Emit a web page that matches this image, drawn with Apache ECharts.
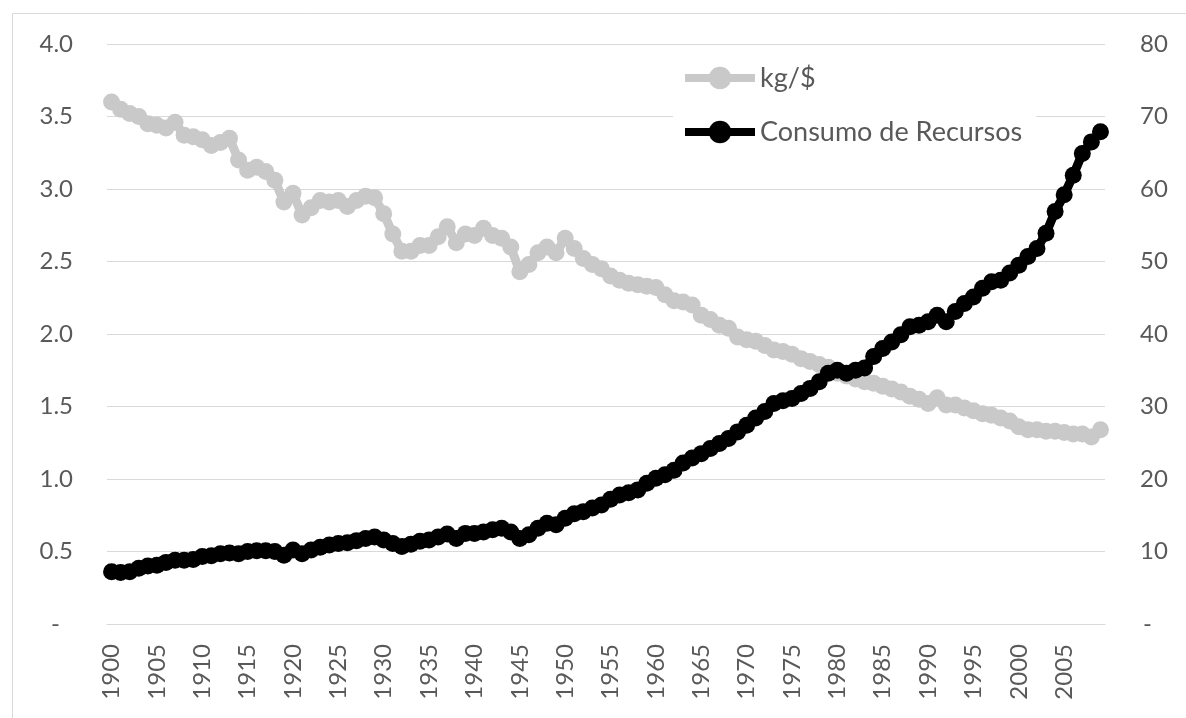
<!DOCTYPE html>
<html>
<head>
<meta charset="utf-8">
<script src="https://cdn.jsdelivr.net/npm/echarts@6/dist/echarts.min.js"></script>
<style>
  html, body { margin: 0; padding: 0; background: #fff; }
  #chart { width: 1186px; height: 718px; }
</style>
</head>
<body>
<div id="chart"></div>
<script>
// años 1900-2009
const years = []
for (let y = 1900; y <= 2009; y++) years.push(String(y))

// kg/$ (eje izquierdo)
const kgPorDolar = [
  3.60, 3.55, 3.52, 3.50, 3.45, 3.44, 3.42, 3.46, 3.37, 3.36,
  3.34, 3.30, 3.32, 3.35, 3.20, 3.13, 3.15, 3.12, 3.06, 2.91,
  2.97, 2.82, 2.87, 2.92, 2.91, 2.92, 2.88, 2.92, 2.95, 2.94,
  2.83, 2.69, 2.57, 2.57, 2.61, 2.61, 2.67, 2.74, 2.63, 2.69,
  2.68, 2.73, 2.68, 2.66, 2.60, 2.43, 2.48, 2.56, 2.60, 2.56,
  2.66, 2.59, 2.52, 2.48, 2.45, 2.40, 2.37, 2.35, 2.34, 2.33,
  2.32, 2.27, 2.23, 2.22, 2.20, 2.13, 2.10, 2.06, 2.04, 1.98,
  1.96, 1.95, 1.92, 1.89, 1.88, 1.86, 1.83, 1.81, 1.79, 1.77,
  1.73, 1.71, 1.69, 1.67, 1.66, 1.64, 1.62, 1.60, 1.57, 1.55,
  1.52, 1.56, 1.51, 1.51, 1.49, 1.47, 1.45, 1.44, 1.42, 1.40,
  1.36, 1.34, 1.34, 1.33, 1.33, 1.32, 1.31, 1.31, 1.29, 1.34
]

// Consumo de Recursos (eje derecho)
const consumo = [
  7.2, 7.1, 7.2, 7.7, 8.0, 8.1, 8.5, 8.8, 8.8, 8.9,
  9.3, 9.4, 9.7, 9.8, 9.7, 10.0, 10.1, 10.1, 10.0, 9.5,
  10.2, 9.7, 10.2, 10.6, 10.9, 11.1, 11.2, 11.5, 11.8, 12.0,
  11.6, 11.1, 10.7, 11.0, 11.4, 11.6, 12.0, 12.4, 11.8, 12.5,
  12.5, 12.7, 13.0, 13.2, 12.7, 11.8, 12.3, 13.2, 13.9, 13.7,
  14.6, 15.2, 15.5, 16.0, 16.4, 17.2, 17.8, 18.1, 18.5, 19.4,
  20.1, 20.6, 21.2, 22.2, 22.9, 23.5, 24.2, 24.9, 25.6, 26.5,
  27.4, 28.4, 29.3, 30.4, 30.8, 31.1, 31.8, 32.5, 33.4, 34.6,
  35.0, 34.6, 35.0, 35.3, 36.9, 38.0, 38.9, 39.9, 41.0, 41.2,
  41.7, 42.6, 41.7, 43.1, 44.2, 45.1, 46.3, 47.2, 47.4, 48.4,
  49.5, 50.7, 51.8, 53.9, 56.9, 59.2, 61.9, 64.9, 66.5, 67.9
]

const labelColor = '#595959'
const gridColor = '#d9d9d9'
const fontFamily = 'Lato'

const chart = echarts.init(document.getElementById('chart'))
chart.setOption({
  animation: false,
  backgroundColor: '#fff',
  textStyle: { fontFamily: fontFamily },
  graphic: [{
    type: 'rect',
    left: 10,
    top: 11,
    shape: { width: 1400, height: 900 },
    style: { fill: 'none', stroke: gridColor, lineWidth: 1 },
    silent: true,
    z: -10
  }],
  grid: {
    left: 107,
    right: 81,
    top: 44,
    bottom: 94
  },
  legend: {
    orient: 'vertical',
    left: 673,
    top: 52,
    padding: [10, 14, 10, 8],
    backgroundColor: '#fff',
    itemWidth: 70,
    itemHeight: 28,
    itemGap: 22,
    lineStyle: { width: 8 },
    textStyle: {
      color: labelColor,
      fontSize: 27,
      lineHeight: 32,
      fontFamily: fontFamily
    },
    data: ['kg/$', 'Consumo de Recursos']
  },
  xAxis: {
    type: 'category',
    data: years,
    boundaryGap: true,
    axisLine: { lineStyle: { color: gridColor, width: 1 } },
    axisTick: { show: false },
    axisLabel: {
      interval: 4,
      rotate: 90,
      margin: 20,
      color: labelColor,
      fontSize: 24,
      fontFamily: fontFamily
    },
    splitLine: { show: false }
  },
  yAxis: [{
    type: 'value',
    min: 0,
    max: 4,
    interval: 0.5,
    axisLine: { show: false },
    axisTick: { show: false },
    splitLine: { lineStyle: { color: gridColor, width: 1 } },
    axisLabel: {
      margin: 34,
      color: labelColor,
      fontSize: 24,
      fontFamily: fontFamily,
      formatter: v => v === 0 ? '{z|-}' : v.toFixed(1),
      rich: { z: { color: labelColor, fontSize: 24, padding: [0, 13, 0, 0] } }
    }
  }, {
    type: 'value',
    min: 0,
    max: 80,
    interval: 10,
    axisLine: { show: false },
    axisTick: { show: false },
    splitLine: { show: false },
    axisLabel: {
      margin: 35,
      color: labelColor,
      fontSize: 24,
      fontFamily: fontFamily,
      formatter: v => v === 0 ? '{z|-}' : String(v),
      rich: { z: { color: labelColor, fontSize: 24, padding: [0, 0, 0, 3] } }
    }
  }],
  series: [{
    name: 'kg/$',
    type: 'line',
    yAxisIndex: 0,
    data: kgPorDolar,
    symbol: 'circle',
    symbolSize: 17,
    showSymbol: true,
    showAllSymbol: true,
    lineStyle: { color: '#c9c9c9', width: 9 },
    itemStyle: { color: '#c9c9c9' }
  }, {
    name: 'Consumo de Recursos',
    type: 'line',
    yAxisIndex: 1,
    data: consumo,
    symbol: 'circle',
    symbolSize: 17,
    showSymbol: true,
    showAllSymbol: true,
    lineStyle: { color: '#000', width: 9 },
    itemStyle: { color: '#000' }
  }]
})
</script>
</body>
</html>
